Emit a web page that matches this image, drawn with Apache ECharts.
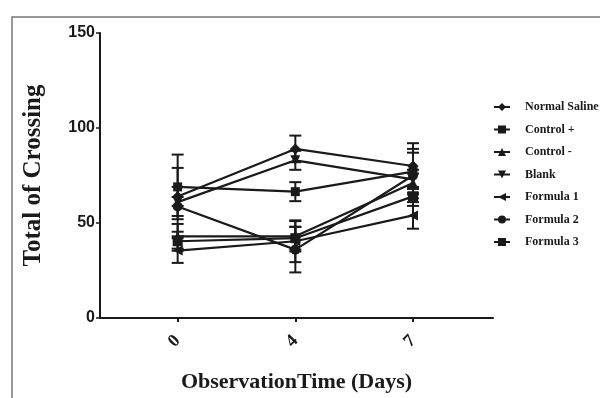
<!DOCTYPE html>
<html><head><meta charset="utf-8">
<script src="https://cdn.jsdelivr.net/npm/echarts@6/dist/echarts.min.js"></script>
<style>html,body{margin:0;padding:0;background:#fff}#c{width:600px;height:398px}</style>
</head><body><div id="c"></div>
<script>
const days = ['0', '4', '7'];
const seriesNames = ['Normal Saline', 'Control +', 'Control -', 'Blank', 'Formula 1', 'Formula 2', 'Formula 3'];
const normalSaline = [64, 89, 80];
const controlPos = [69, 66.5, 77];
const controlNeg = [43, 43, 71];
const blank = [61, 83, 73];
const formula1 = [35.5, 40.4, 54];
const formula2 = [58.7, 36, 75];
const formula3 = [40.4, 42, 64];
const sdNormalSaline = [5, 7, 12];
const sdControlPos = [17, 5, 12];
const sdControlNeg = [6.5, 8, 5];
const sdBlank = [18, 5, 5];
const sdFormula1 = [6.5, 11, 7];
const sdFormula2 = [5, 12, 12];
const sdFormula3 = [5, 6, 5];
const yTicks = [0, 50, 100, 150];

const means = [normalSaline, controlPos, controlNeg, blank, formula1, formula2, formula3];
const sds = [sdNormalSaline, sdControlPos, sdControlNeg, sdBlank, sdFormula1, sdFormula2, sdFormula3];
const symbols = ['diamond', 'rect', 'triangle', 'triangle', 'triangle', 'circle', 'rect'];
const rotations = [0, 0, 0, 180, 90, 0, 0];
const sizes = [11, 9, 10, 10, 10, 10, 10];
const ink = '#1a1a1a';

const series = [];
means.forEach((m, s) => {
  series.push({
    name: seriesNames[s], type: 'line',
    data: m.map((v, i) => [i, v]),
    symbol: symbols[s], symbolRotate: rotations[s], symbolSize: sizes[s],
    lineStyle: { color: ink, width: 2.2 },
    itemStyle: { color: ink },
    z: 3
  });
  series.push({
    type: 'custom', name: seriesNames[s] + ' err',
    data: m.map((v, i) => [i, v - sds[s][i], v + sds[s][i]]),
    renderItem: (params, api) => {
      const lo = api.coord([api.value(0), api.value(1)]);
      const hi = api.coord([api.value(0), api.value(2)]);
      const w = 6;
      const st = { stroke: ink, lineWidth: 2 };
      return { type: 'group', children: [
        { type: 'line', shape: { x1: lo[0], y1: lo[1], x2: hi[0], y2: hi[1] }, style: st },
        { type: 'line', shape: { x1: lo[0] - w, y1: lo[1], x2: lo[0] + w, y2: lo[1] }, style: st },
        { type: 'line', shape: { x1: hi[0] - w, y1: hi[1], x2: hi[0] + w, y2: hi[1] }, style: st }
      ]};
    },
    z: 2
  });
});

const chart = echarts.init(document.getElementById('c'));
chart.setOption({
  animation: false,
  backgroundColor: '#fff',
  grid: { left: 100, right: 107, top: 33, bottom: 79 },
  xAxis: {
    type: 'value', min: -0.66, max: 2.68,
    splitLine: { show: false },
    axisLine: { lineStyle: { color: ink, width: 2 } },
    axisTick: { show: true, length: 4, lineStyle: { color: ink, width: 2 }, customValues: [0, 1, 2] },
    axisLabel: { customValues: [0, 1, 2], formatter: v => days[Math.round(v)] ?? '', rotate: 45, margin: 20,
      fontFamily: 'Liberation Serif', fontWeight: 'bold', fontSize: 18, color: ink },
    name: 'ObservationTime (Days)', nameLocation: 'middle', nameGap: 53,
    nameTextStyle: { fontFamily: 'Liberation Serif', fontWeight: 'bold', fontSize: 22, color: ink }
  },
  yAxis: {
    type: 'value', min: 0, max: 150, interval: 50,
    splitLine: { show: false },
    axisLine: { show: true, onZero: false, lineStyle: { color: ink, width: 2 } },
    axisTick: { show: true, length: 4, lineStyle: { color: ink, width: 1.5 } },
    axisLabel: { formatter: v => yTicks.includes(v) ? String(v) : '', margin: 5,
      fontFamily: 'Liberation Sans', fontWeight: 'bold', fontSize: 16, color: ink },
    name: 'Total of Crossing', nameLocation: 'middle', nameGap: 54,
    nameTextStyle: { fontFamily: 'Liberation Serif', fontWeight: 'bold', fontSize: 25, color: ink }
  },
  legend: {
    orient: 'vertical', left: 488, top: 96, itemGap: 10.5, itemWidth: 16, itemHeight: 10,
    data: seriesNames,
    textStyle: { fontFamily: 'Liberation Serif', fontWeight: 'bold', fontSize: 12, color: ink, padding: [0, 0, 0, 10] }
  },
  graphic: [{ type: 'rect', shape: { x: 12, y: 17, width: 620, height: 420 },
    style: { fill: 'none', stroke: '#777', lineWidth: 1.5 }, silent: true }],
  series
});
</script></body></html>
